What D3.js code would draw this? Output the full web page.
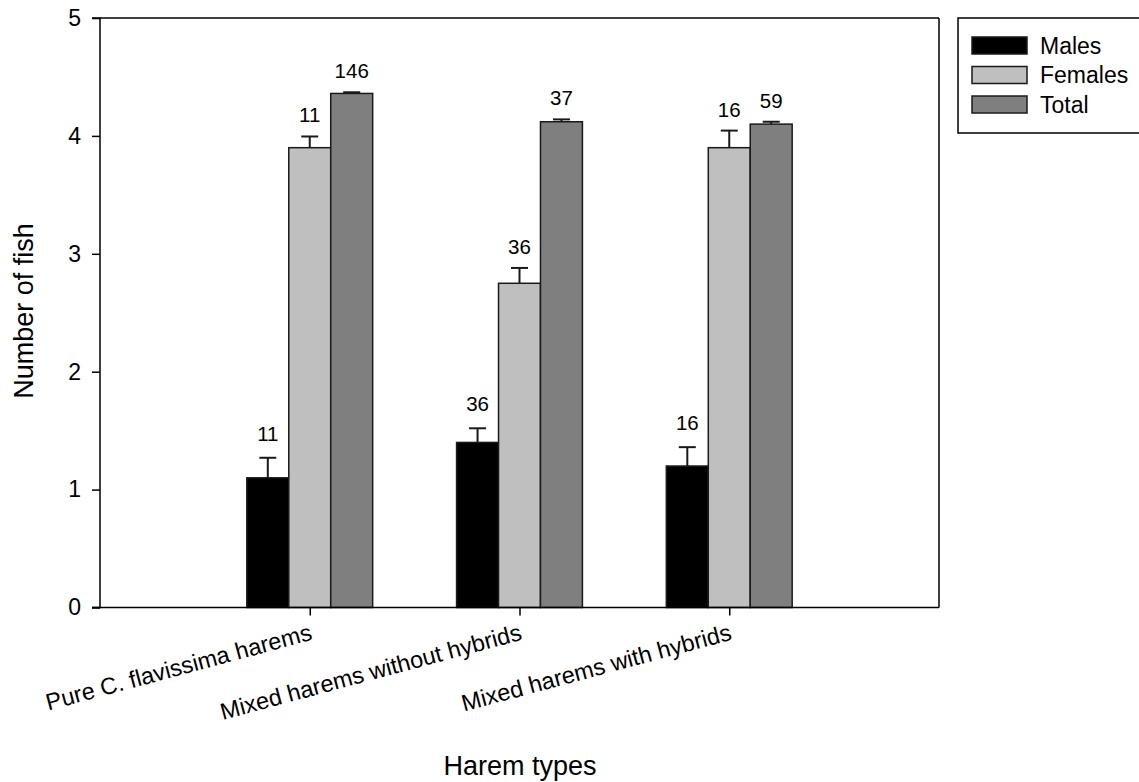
<!DOCTYPE html>
<html>
<head>
<meta charset="utf-8">
<script src="https://cdn.jsdelivr.net/npm/d3@7"></script>
<style>
  html, body { margin: 0; padding: 0; background: #fff; }
  svg { display: block; font-family: "Liberation Sans", Arial, sans-serif; }
</style>
</head>
<body>
<svg id="chart" width="1139" height="782"></svg>
<script>
// ---- data ----
const categories = ["Pure C. flavissima harems", "Mixed harems without hybrids", "Mixed harems with hybrids"];
const seriesNames = ["Males", "Females", "Total"];
const malesMean = [1.10, 1.40, 1.20];
const malesErr = [0.17, 0.12, 0.16];
const femalesMean = [3.90, 2.75, 3.90];
const femalesErr = [0.095, 0.13, 0.145];
const totalMean = [4.36, 4.12, 4.10];
const totalErr = [0.01, 0.02, 0.02];
const malesN = ["11", "36", "16"];
const femalesN = ["11", "36", "16"];
const totalN = ["146", "37", "59"];
const yTicks = [0, 1, 2, 3, 4, 5];

const series = [
  { name: seriesNames[0], mean: malesMean, err: malesErr, n: malesN, fill: "#000000" },
  { name: seriesNames[1], mean: femalesMean, err: femalesErr, n: femalesN, fill: "#bfbfbf" },
  { name: seriesNames[2], mean: totalMean, err: totalErr, n: totalN, fill: "#7f7f7f" }
];

const FONT = "Liberation Sans, Arial, sans-serif";

// ---- layout ----
const svg = d3.select("#chart");
const L = 100, R = 939, T = 18, B = 607.5;
const x = d3.scaleLinear().domain([0, 4]).range([L, R]);
const y = d3.scaleLinear().domain([0, 5]).range([B, T]);
const barW = x(0.2) - x(0);

// bars
series.forEach((s, si) => {
  const g = svg.append("g");
  categories.forEach((c, ci) => {
    const cx = x(ci + 1);
    const x0 = cx - 1.5 * barW + si * barW;
    g.append("rect")
      .attr("x", x0).attr("y", y(s.mean[ci]))
      .attr("width", barW).attr("height", y(0) - y(s.mean[ci]))
      .attr("fill", s.fill).attr("stroke", "#1a1a1a").attr("stroke-width", 1.5);
    const mx = x0 + barW / 2;
    const top = y(s.mean[ci] + s.err[ci]);
    g.append("line").attr("x1", mx).attr("x2", mx)
      .attr("y1", y(s.mean[ci])).attr("y2", top)
      .attr("stroke", "#1a1a1a").attr("stroke-width", 2);
    g.append("line").attr("x1", mx - 8.5).attr("x2", mx + 8.5)
      .attr("y1", top).attr("y2", top)
      .attr("stroke", "#1a1a1a").attr("stroke-width", 2);
    g.append("text").attr("x", mx).attr("y", top - (si === 0 ? 17 : 14))
      .attr("text-anchor", "middle").attr("font-size", 20.5).attr("fill", "#000")
      .text(s.n[ci]);
  });
});

// frame (top & right)
svg.append("line").attr("x1", L).attr("x2", R).attr("y1", T).attr("y2", T)
  .attr("stroke", "#000").attr("stroke-width", 1.5);
svg.append("line").attr("x1", R).attr("x2", R).attr("y1", T).attr("y2", B)
  .attr("stroke", "#000").attr("stroke-width", 1.5);

// y axis
const yAxis = svg.append("g").attr("transform", `translate(${L},0)`)
  .call(d3.axisLeft(y).tickValues(yTicks).tickFormat(d3.format("d")).tickSize(8).tickPadding(11));
yAxis.attr("font-size", null).attr("font-family", null);
yAxis.select(".domain").attr("stroke", "#000").attr("stroke-width", 1.5)
  .attr("d", `M-8,${y(5)}H0V${y(0)}H-8`);
yAxis.selectAll(".tick line").attr("stroke", "#000").attr("stroke-width", 1.5);
yAxis.selectAll(".tick text").attr("font-size", 23).attr("fill", "#000")
  .attr("font-family", FONT);

// x axis
const xAxis = svg.append("g").attr("transform", `translate(0,${B})`)
  .call(d3.axisBottom(x).tickValues([1, 2, 3]).tickFormat(d => categories[d - 1]).tickSize(8));
xAxis.attr("font-size", null).attr("font-family", null);
xAxis.select(".domain").attr("stroke", "#000").attr("stroke-width", 1.5)
  .attr("d", `M${L - 8},0H${R}`);
xAxis.selectAll(".tick line").attr("stroke", "#000").attr("stroke-width", 1.5);
xAxis.selectAll(".tick text")
  .attr("font-size", 23.5).attr("fill", "#000")
  .attr("font-family", FONT)
  .attr("text-anchor", "end").attr("dy", null).attr("y", null)
  .attr("transform", "translate(3,32) rotate(-15)");

// axis titles
svg.append("text").attr("x", 520).attr("y", 775).attr("text-anchor", "middle")
  .attr("font-size", 27).attr("fill", "#000").text("Harem types");
svg.append("text").attr("transform", "translate(33,311) rotate(-90)")
  .attr("text-anchor", "middle").attr("font-size", 27).attr("fill", "#000").text("Number of fish");

// legend
const lg = svg.append("g");
lg.append("rect").attr("x", 958).attr("y", 18).attr("width", 200).attr("height", 115)
  .attr("fill", "#fff").attr("stroke", "#000").attr("stroke-width", 1.5);
series.forEach((s, i) => {
  const yy = 37 + i * 29.5;
  lg.append("rect").attr("x", 972).attr("y", yy).attr("width", 55).attr("height", 17)
    .attr("fill", s.fill).attr("stroke", "#1a1a1a").attr("stroke-width", 1.5);
  lg.append("text").attr("x", 1040).attr("y", yy + 16.5).attr("font-size", 23)
    .attr("fill", "#000").text(s.name);
});
</script>
</body>
</html>
